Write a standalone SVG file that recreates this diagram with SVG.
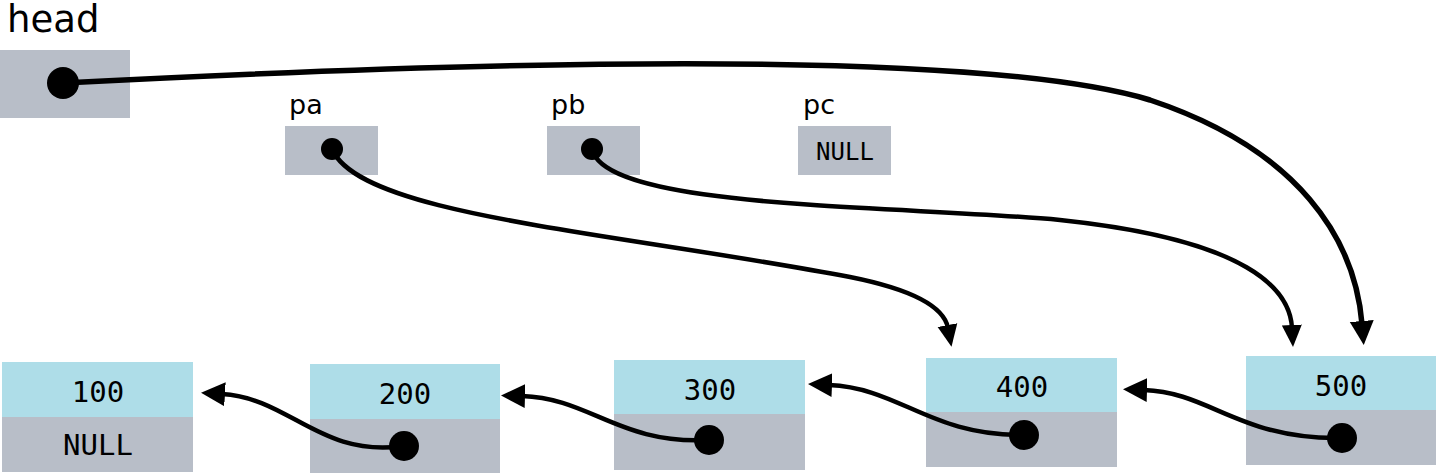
<svg xmlns="http://www.w3.org/2000/svg" width="1436" height="474" viewBox="0 0 1436 474">
<style>
.g{fill:#b8bec8}
.b{fill:#aedde8}
.lbl{font-family:"DejaVu Sans",sans-serif;fill:#000}
.mono{font-family:"DejaVu Sans Mono",monospace;fill:#000;text-anchor:middle}
.c{fill:none;stroke:#000;stroke-width:4.5}
.thick{stroke-width:5.5}
.dot{fill:#000}
</style>
<defs>
<marker id="ah" markerUnits="userSpaceOnUse" markerWidth="24" markerHeight="24" viewBox="0 0 24 24" refX="3" refY="12" orient="auto">
<path d="M0,2 L22,12 L0,22 Z" fill="#000"/>
</marker>
<marker id="ahb" markerUnits="userSpaceOnUse" markerWidth="28" markerHeight="28" viewBox="0 0 28 28" refX="3" refY="14" orient="auto">
<path d="M0,2 L24,14 L0,26 Z" fill="#000"/>
</marker>
</defs>
<rect width="1436" height="474" fill="#fff"/>
<g id="head">
<text class="lbl" x="7" y="32" font-size="37">head</text>
<rect class="g" x="0" y="50" width="130" height="68"/>
</g>
<g id="pa">
<text class="lbl" x="289" y="114" font-size="27">pa</text>
<rect class="g" x="285" y="126" width="93" height="49"/>
</g>
<g id="pb">
<text class="lbl" x="551" y="114" font-size="27">pb</text>
<rect class="g" x="547" y="126" width="93" height="49"/>
</g>
<g id="pc">
<text class="lbl" x="803" y="114" font-size="27">pc</text>
<rect class="g" x="798" y="126" width="93" height="49"/>
<text class="mono" x="845" y="160" font-size="24">NULL</text>
</g>
<g id="n100">
<rect class="b" x="2" y="362" width="191" height="55"/>
<rect class="g" x="2" y="417" width="191" height="55"/>
<text class="mono" x="98" y="402" font-size="29">100</text>
<text class="mono" x="98" y="455" font-size="29">NULL</text>
</g>
<g id="n200">
<rect class="b" x="310" y="364" width="190" height="55"/>
<rect class="g" x="310" y="419" width="190" height="54"/>
<text class="mono" x="405" y="404" font-size="29">200</text>
</g>
<g id="n300">
<rect class="b" x="614" y="360" width="191" height="54"/>
<rect class="g" x="614" y="414" width="191" height="56"/>
<text class="mono" x="710" y="400" font-size="29">300</text>
</g>
<g id="n400">
<rect class="b" x="926" y="358" width="191" height="54"/>
<rect class="g" x="926" y="412" width="191" height="55"/>
<text class="mono" x="1022" y="397" font-size="29">400</text>
</g>
<g id="n500">
<rect class="b" x="1246" y="356" width="190" height="54"/>
<rect class="g" x="1246" y="410" width="190" height="55"/>
<text class="mono" x="1341" y="396" font-size="29">500</text>
</g>
<g id="connectors">
<path class="c thick" d="M63,83 C600,55 1000,55 1150,100 C1300,150 1355,240 1362,324" marker-end="url(#ahb)"/>
<path class="c" d="M332,149 C360,215 600,230 850,277 C925,292 945,312 948,328" marker-end="url(#ah)"/>
<path class="c" d="M592,149 C605,210 900,205 1060,220 C1250,240 1290,290 1292,328" marker-end="url(#ah)"/>
<path class="c" d="M404,446 C320,458 290,398 222,394" marker-end="url(#ahb)"/>
<path class="c" d="M709,440 C620,445 590,398 522,396" marker-end="url(#ahb)"/>
<path class="c" d="M1024,435 C930,436 900,388 829,385" marker-end="url(#ahb)"/>
<path class="c" d="M1342,438 C1240,440 1210,392 1144,390" marker-end="url(#ahb)"/>
<circle class="dot" cx="63" cy="83" r="16"/>
<circle class="dot" cx="332" cy="149" r="11"/>
<circle class="dot" cx="592" cy="149" r="11"/>
<circle class="dot" cx="404" cy="446" r="15"/>
<circle class="dot" cx="709" cy="440" r="15"/>
<circle class="dot" cx="1024" cy="435" r="15"/>
<circle class="dot" cx="1342" cy="438" r="15"/>
</g>
</svg>
